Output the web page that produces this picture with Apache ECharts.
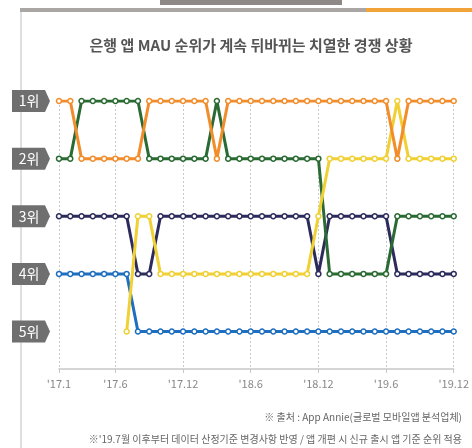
<!DOCTYPE html>
<html>
<head>
<meta charset="utf-8">
<script src="https://cdn.jsdelivr.net/npm/echarts@6/dist/echarts.min.js"></script>
<style>
  html, body { margin: 0; padding: 0; background: #fff; }
  #chart { width: 472px; height: 448px; }
</style>
</head>
<body>
<div id="chart"></div>
<script>
// months '17.1 ~ '19.12
const years = ["17", "18", "19"];
const months = [];
years.forEach(y => { for (let m = 1; m <= 12; m++) months.push("'" + y + "." + m); });
const tickLabels = ["'17.1", "'17.6", "'17.12", "'18.6", "'18.12", "'19.6", "'19.12"];
const rankLabels = ["1위", "2위", "3위", "4위", "5위"];

// rank per month
const orangeRank = [1,1,2,2,2,2,2,2,1,1,1,1,1,1,2,1,1,1,1,1,1,1,1,1,1,1,1,1,1,1,2,1,1,1,1,1];
const greenRank  = [2,2,1,1,1,1,1,1,2,2,2,2,2,2,1,2,2,2,2,2,2,2,2,2,4,4,4,4,4,4,3,3,3,3,3,3];
const navyRank   = [3,3,3,3,3,3,3,4,4,3,3,3,3,3,3,3,3,3,3,3,3,3,3,4,3,3,3,3,3,3,4,4,4,4,4,4];
const yellowRank = [null,null,null,null,null,null,5,3,3,4,4,4,4,4,4,4,4,4,4,4,4,4,4,3,2,2,2,2,2,2,1,2,2,2,2,2];
const blueRank   = [4,4,4,4,4,4,4,5,5,5,5,5,5,5,5,5,5,5,5,5,5,5,5,5,5,5,5,5,5,5,5,5,5,5,5,5];

const title = "은행 앱 MAU 순위가 계속 뒤바뀌는 치열한 경쟁 상황";
const note1 = "※ 출처 : App Annie(글로벌 모바일앱 분석업체)";
const note2 = "※'19.7월 이후부터 데이터 산정기준 변경사항 반영 / 앱 개편 시 신규 출시 앱 기준 순위 적용";

const FONT = "'Noto Sans CJK KR', 'Noto Sans', sans-serif";

const showTick = idx => tickLabels.indexOf(months[idx]) >= 0;

const mkLine = (data, color) => ({
  type: "line",
  data: data,
  symbol: "circle",
  symbolSize: 5,
  showAllSymbol: true,
  connectNulls: false,
  lineStyle: { color: color, width: 3 },
  itemStyle: { color: "#fff", borderColor: color, borderWidth: 1.5 },
  emphasis: { disabled: true }
});

const chart = echarts.init(document.getElementById("chart"));

const option = {
  animation: false,
  textStyle: { fontFamily: FONT },
  title: {
    text: title,
    left: 246,
    textAlign: "center",
    top: 33,
    textStyle: { fontSize: 15, fontWeight: "bold", color: "#555", fontFamily: FONT }
  },
  grid: { left: 59, right: 12, top: 101, bottom: 79 },
  xAxis: {
    type: "category",
    data: months,
    boundaryGap: false,
    axisLine: { lineStyle: { color: "#c8c8c8", width: 1.5 } },
    axisTick: { show: true, interval: showTick, length: 4, lineStyle: { color: "#c8c8c8" } },
    axisLabel: { interval: showTick, color: "#888", fontSize: 11, margin: 9, fontFamily: FONT },
    splitLine: { show: true, interval: showTick, lineStyle: { color: "#c8c8c8", type: [2, 2], width: 1 } }
  },
  yAxis: {
    type: "value",
    inverse: true,
    min: 1,
    max: 5.65,
    axisLine: { show: false },
    axisTick: { show: false },
    axisLabel: { show: false },
    splitLine: { show: false }
  },
  series: [
    mkLine(blueRank, "#1f6fc0"),
    mkLine(navyRank, "#2c2b5c"),
    mkLine(greenRank, "#2a6a33"),
    mkLine(yellowRank, "#f0d034"),
    mkLine(orangeRank, "#f28d2c")
  ]
};
chart.setOption(option);

// frame decorations and rank tags
const deco = [
  { type: "rect", shape: { x: 160, y: 0, width: 182, height: 5 }, style: { fill: "#8e8886" } },
  { type: "rect", shape: { x: 20, y: 8, width: 346, height: 4 }, style: { fill: "#aaa6a4" } },
  { type: "rect", shape: { x: 366, y: 8, width: 106, height: 4 }, style: { fill: "#f2a33a" } },
  { type: "line", shape: { x1: 21, y1: 12, x2: 21, y2: 448 }, style: { stroke: "#d4d4d4", lineWidth: 1.5 } }
];
rankLabels.forEach((lab, i) => {
  const y = chart.convertToPixel({ yAxisIndex: 0 }, i + 1);
  deco.push({
    type: "polygon",
    shape: { points: [[12, y - 11], [45, y - 11], [50, y], [45, y + 11], [12, y + 11]] },
    style: { fill: "#6f6f6f" }
  });
  deco.push({
    type: "text",
    x: 29, y: y,
    style: { text: lab, fill: "#fff", fontSize: 14, fontFamily: FONT, align: "center", verticalAlign: "middle" }
  });
});
deco.push({
  type: "text", x: 462, y: 417,
  style: { text: note1, fill: "#666", fontSize: 10, fontFamily: FONT, align: "right", verticalAlign: "middle" }
});
deco.push({
  type: "text", x: 462, y: 439,
  style: { text: note2, fill: "#666", fontSize: 10, fontFamily: FONT, align: "right", verticalAlign: "middle" }
});
chart.setOption({ graphic: { elements: deco } });
</script>
</body>
</html>
